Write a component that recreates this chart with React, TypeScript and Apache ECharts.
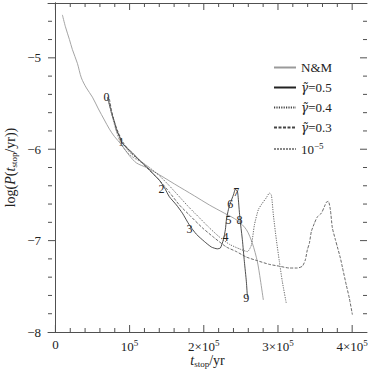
import React, { useEffect, useRef } from "react";
import * as echarts from "echarts";

// ---- data (t_stop in yr, log P) ----
const tNM = [9400, 13500, 18900, 22900, 29600, 35000, 41800, 49900, 58000, 66000, 72800, 79500, 88900, 99700, 109200, 122600, 140200, 160400, 187300, 207500, 227800, 245300, 257400, 265500, 272200, 276300, 280300];
const logPNM = [-4.53, -4.66, -4.80, -4.91, -5.06, -5.22, -5.33, -5.43, -5.56, -5.68, -5.78, -5.86, -5.95, -6.07, -6.15, -6.20, -6.28, -6.38, -6.51, -6.61, -6.70, -6.78, -6.88, -7.03, -7.23, -7.43, -7.65];

const tG05 = [70000, 72800, 75500, 79500, 82200, 86300, 88900, 95700, 103800, 113200, 122600, 130700, 140200, 146900, 153600, 163100, 171200, 180600, 190000, 200800, 210200, 218300, 222400, 226400, 229100, 230500, 233200, 235800, 239900, 242600, 245300, 246600, 248000, 249300, 252000, 254700, 257400, 258800];
const logPG05 = [-5.43, -5.51, -5.60, -5.70, -5.79, -5.86, -5.92, -5.98, -6.04, -6.12, -6.19, -6.26, -6.34, -6.42, -6.52, -6.61, -6.70, -6.83, -6.93, -7.01, -7.07, -7.09, -7.08, -6.99, -6.88, -6.77, -6.66, -6.59, -6.50, -6.44, -6.46, -6.55, -6.69, -6.80, -6.99, -7.23, -7.45, -7.62];

const tG04 = [71400, 74100, 78200, 83600, 90300, 99700, 113200, 126700, 140200, 153600, 167100, 180600, 194100, 207500, 221000, 234500, 248000, 258800, 264100, 268200, 273600, 279000, 284400, 288400, 291100, 293800, 297800, 301900, 305900, 311300];
const logPG04 = [-5.44, -5.55, -5.68, -5.81, -5.93, -6.03, -6.12, -6.20, -6.29, -6.40, -6.52, -6.64, -6.75, -6.86, -6.96, -7.04, -7.09, -7.12, -7.05, -6.83, -6.66, -6.59, -6.53, -6.48, -6.50, -6.72, -6.99, -7.23, -7.45, -7.69];

const tG03 = [72800, 75500, 79500, 84900, 91600, 101100, 113200, 126700, 140200, 153600, 167100, 180600, 198100, 214300, 230500, 243900, 257400, 272200, 288400, 301900, 315400, 326100, 332900, 336900, 339600, 342300, 345000, 349100, 353100, 358500, 362500, 365200, 367900, 370600, 373300, 377400, 380100, 384100, 386800, 392200, 396200, 400300];
const logPG03 = [-5.45, -5.57, -5.70, -5.82, -5.93, -6.03, -6.12, -6.23, -6.34, -6.47, -6.61, -6.72, -6.86, -6.97, -7.07, -7.12, -7.18, -7.22, -7.26, -7.28, -7.30, -7.30, -7.28, -7.21, -7.10, -7.03, -6.90, -6.81, -6.74, -6.70, -6.63, -6.58, -6.57, -6.66, -6.86, -6.99, -7.07, -7.19, -7.29, -7.49, -7.63, -7.81];

const tG1e5 = [70000, 76000, 82000, 89000, 100000, 115000, 125000];
const logPG1e5 = [-5.43, -5.62, -5.80, -5.95, -6.06, -6.14, -6.20];

// numbered points along the tracks
const markT = [68700, 88900, 142900, 180600, 229100, 233200, 235800, 243900, 248000, 257400];
const markLogP = [-5.43, -5.92, -6.44, -6.87, -6.96, -6.77, -6.60, -6.47, -6.77, -7.63];
const markText = ["0", "1", "2", "3", "4", "5", "6", "7", "8", "9"];

// axes
const X_MIN = -10000;
const X_MAX = 420000;
const Y_MIN = -8;
const Y_MAX = -4.4;
const xMajor = [0, 100000, 200000, 300000, 400000];
const xMajorLabels = ["0", "10{sup|5}", "2×10{sup|5}", "3×10{sup|5}", "4×10{sup|5}"];
const xMinor = [20000, 40000, 60000, 80000, 120000, 140000, 160000, 180000, 220000, 240000, 260000, 280000, 320000, 340000, 360000, 380000];
const yMajor = [-8, -7, -6, -5];
const yMajorLabels = ["−8", "−7", "−6", "−5"];
const yMinor = [-7.8, -7.6, -7.4, -7.2, -6.8, -6.6, -6.4, -6.2, -5.8, -5.6, -5.4, -5.2, -4.8, -4.6];

const seriesNames = ["N&M", "g05", "g04", "g03", "g1e5"];
const legendText: Record<string, string> = {
  "N&M": "{n|N&M}",
  g05: "{g|γ̃}{n|=0.5}",
  g04: "{g|γ̃}{n|=0.4}",
  g03: "{g|γ̃}{n|=0.3}",
  g1e5: "{n|10}{sup|−5}",
};

const zip = (a: number[], b: number[]) => a.map((v, i) => [v, b[i]]);

const FONT = "Liberation Serif";
const AX = "#505050";
const MAJOR_LEN = 7;
const MINOR_LEN = 4;

const W = 371;
const H = 370;
const GL = 48;
const GR = 4;
const GT = 3;
const GB = 38;

export default function App() {
  const ref = useRef<HTMLDivElement>(null);
  useEffect(() => {
    if (!ref.current) return;
    const chart = echarts.init(ref.current, null, { renderer: "svg" });
    // tick segments drawn as a broken line series through the axes' own scales
    const xPerPx = (X_MAX - X_MIN) / (W - GL - GR);
    const yPerPx = (Y_MAX - Y_MIN) / (H - GT - GB);
    const ticks: (number[] | null[])[] = [];
    const gap = [null, null];
    const addX = (v: number, len: number) => {
      ticks.push([v, Y_MIN], [v, Y_MIN + len * yPerPx], gap);
      ticks.push([v, Y_MAX], [v, Y_MAX - len * yPerPx], gap);
    };
    const addY = (v: number, len: number) => {
      ticks.push([X_MIN, v], [X_MIN + len * xPerPx, v], gap);
      ticks.push([X_MAX, v], [X_MAX - len * xPerPx, v], gap);
    };
    xMajor.forEach((v) => addX(v, MAJOR_LEN));
    xMinor.forEach((v) => addX(v, MINOR_LEN));
    yMajor.filter((v) => v > Y_MIN).forEach((v) => addY(v, MAJOR_LEN));
    yMinor.forEach((v) => addY(v, MINOR_LEN));

    const richNum = {
      sup: { fontFamily: FONT, fontSize: 9, verticalAlign: "bottom", padding: [0, 0, 7, 0], color: "#222" },
    };
    const nameRich = {
      i: { fontFamily: FONT, fontSize: 14, fontStyle: "italic", color: "#222" },
      n: { fontFamily: FONT, fontSize: 14, color: "#222" },
      sub: { fontFamily: FONT, fontSize: 9, verticalAlign: "top", padding: [6, 0, 0, 0], color: "#222" },
    };
    const frameAxis = { show: true, lineStyle: { color: AX, width: 1 } };
    chart.setOption({
      animation: false,
      backgroundColor: "#fff",
      grid: { left: GL, right: GR, top: GT, bottom: GB, containLabel: false, outerBoundsMode: "none" },
      legend: {
        orient: "vertical",
        left: 268,
        top: 56,
        itemWidth: 22,
        itemHeight: 10,
        itemGap: 7,
        data: seriesNames,
        itemStyle: { opacity: 0 },
        formatter: (n: string) => legendText[n],
        textStyle: {
          fontFamily: FONT,
          fontSize: 13,
          color: "#222",
          rich: {
            n: { fontFamily: FONT, fontSize: 13, color: "#222" },
            g: { fontFamily: "DejaVu Serif", fontSize: 12, fontStyle: "italic", color: "#222" },
            sup: { fontFamily: FONT, fontSize: 9, verticalAlign: "bottom", padding: [0, 0, 7, 0], color: "#222" },
          },
        },
      },
      xAxis: [
        {
          type: "value", min: X_MIN, max: X_MAX, position: "bottom",
          splitLine: { show: false }, axisLine: frameAxis, axisTick: { show: false },
          axisLabel: {
            customValues: xMajor,
            margin: 6,
            fontFamily: FONT,
            fontSize: 13,
            color: "#222",
            formatter: (v: number) => xMajorLabels[xMajor.indexOf(v)] ?? "",
            rich: richNum,
          },
          name: "{i|t}{sub|stop}{n|/yr}",
          nameLocation: "middle",
          nameGap: 21,
          nameMoveOverlap: false,
          nameTextStyle: { rich: nameRich },
        },
        {
          type: "value", min: X_MIN, max: X_MAX, position: "top",
          splitLine: { show: false }, axisLine: frameAxis, axisTick: { show: false }, axisLabel: { show: false },
        },
      ],
      yAxis: [
        {
          type: "value", min: Y_MIN, max: Y_MAX, position: "left",
          splitLine: { show: false }, axisLine: frameAxis, axisTick: { show: false },
          axisLabel: {
            customValues: yMajor,
            margin: 7,
            fontFamily: FONT,
            fontSize: 13,
            color: "#222",
            formatter: (v: number) => yMajorLabels[yMajor.indexOf(v)] ?? "",
          },
          name: "{n|log(}{i|P}{n|(}{i|t}{sub|stop}{n|/yr))}",
          nameLocation: "middle",
          nameRotate: 90,
          nameGap: 30,
          nameMoveOverlap: false,
          nameTextStyle: { rich: nameRich },
        },
        {
          type: "value", min: Y_MIN, max: Y_MAX, position: "right",
          splitLine: { show: false }, axisLine: frameAxis, axisTick: { show: false }, axisLabel: { show: false },
        },
      ],
      series: [
        {
          name: "N&M", type: "line", data: zip(tNM, logPNM), symbol: "none", smooth: 0.3,
          lineStyle: { color: "#9a9a9a", width: 0.9, type: "solid" }, itemStyle: { color: "#9a9a9a" },
        },
        {
          name: "g05", type: "line", data: zip(tG05, logPG05), symbol: "none", smooth: 0.2,
          lineStyle: { color: "#222", width: 0.8, type: "solid" }, itemStyle: { color: "#222" },
        },
        {
          name: "g04", type: "line", data: zip(tG04, logPG04), symbol: "none", smooth: 0.2,
          lineStyle: { color: "#444", width: 0.8, type: [1.2, 1.2] }, itemStyle: { color: "#444" },
        },
        {
          name: "g03", type: "line", data: zip(tG03, logPG03), symbol: "none", smooth: 0.2,
          lineStyle: { color: "#444", width: 0.8, type: [3, 1.5] }, itemStyle: { color: "#444" },
        },
        {
          name: "g1e5", type: "line", data: zip(tG1e5, logPG1e5), symbol: "none", smooth: 0.3,
          lineStyle: { color: "#888", width: 0.8, type: [2, 1] }, itemStyle: { color: "#888" },
        },
        {
          name: "ticks", type: "line", data: ticks, symbol: "none", connectNulls: false,
          clip: false, silent: true, z: 4,
          lineStyle: { color: AX, width: 1, type: "solid" }, itemStyle: { color: AX },
        },
        {
          name: "marks", type: "custom", clip: false,
          data: markT.map((t, i) => [t, markLogP[i], i]),
          renderItem: (_p: any, api: any) => {
            const c = api.coord([api.value(0), api.value(1)]);
            return {
              type: "text",
              x: c[0], y: c[1],
              style: {
                text: markText[api.value(2)],
                fill: "#222",
                font: `12px "${FONT}"`,
                align: "center",
                verticalAlign: "middle",
              },
            };
          },
        },
      ],
    });
    return () => chart.dispose();
  }, []);
  return <div ref={ref} style={{ position: "fixed", left: 0, top: 0, width: W, height: H }} />;
}
